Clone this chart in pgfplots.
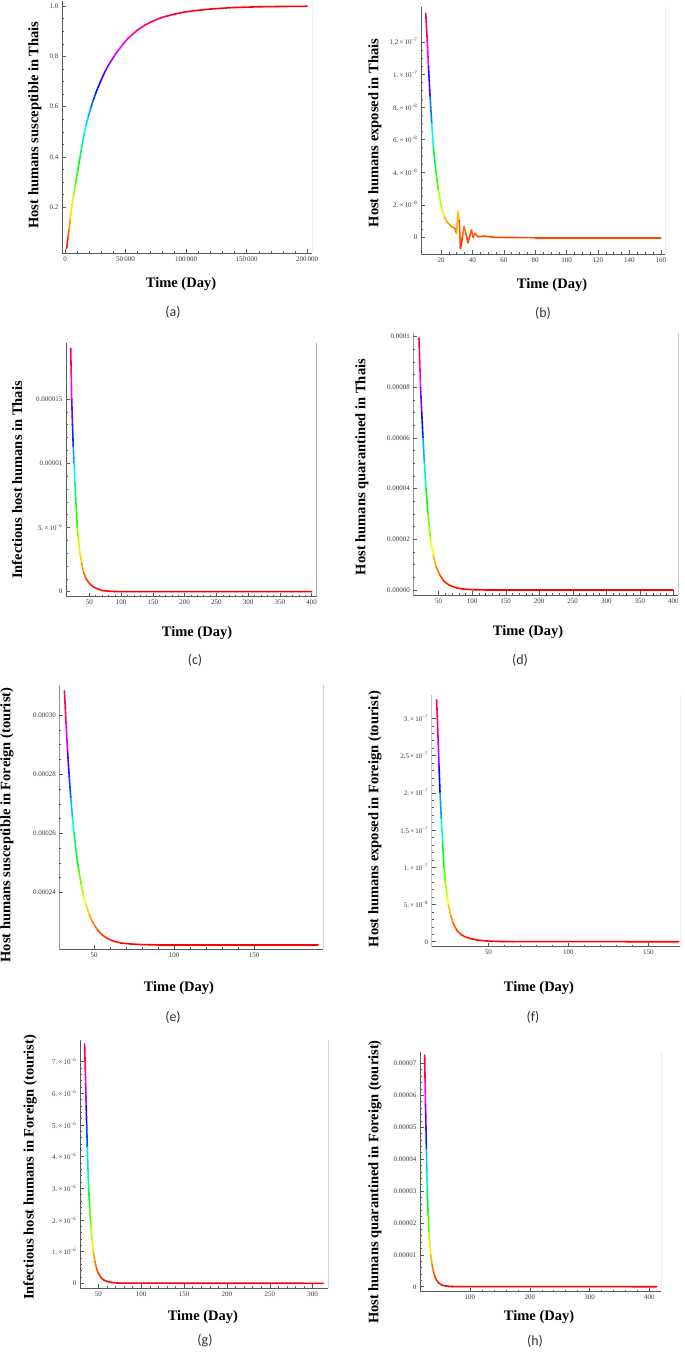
\documentclass[border=0pt]{standalone}
\usepackage{fontspec}
\setmainfont{Liberation Serif}
\newfontfamily\capfont{Carlito}
\usepackage{pgfplots}
\pgfplotsset{compat=1.18}
\definecolor{axcol}{HTML}{5A5A5A}
\definecolor{tkcol}{HTML}{3A3A3A}
\pgfplotsset{
  colormap={hue}{color=(red) color=(yellow) color=(green) color=(cyan) color=(blue) color=(magenta) color=(red)},
  panel/.style={
    scale only axis, anchor=south west,
    axis line style={draw=none},
    tick pos=left, tick align=inside,
    major tick length=4pt, minor tick length=2pt,
    tick style={axcol, line width=0.45pt},
    ticklabel style={font=\fontsize{7}{7.5}\selectfont, text=tkcol},
    label style={font=\bfseries\fontsize{14.5}{16}\selectfont, text=black},
    xlabel={Time (Day)},
    scaled x ticks=false, scaled y ticks=false,
    colormap name=hue,
  },
  curve/.style={mesh, point meta=y, line width=1.6pt, line cap=round, line join=round},
}
\newcommand{\frameR}[1][0.6pt]{\draw[axcol, line width=0.6pt] (rel axis cs:0,1) -- (rel axis cs:0,0) -- (rel axis cs:1,0);
  \draw[axcol!80, line width=#1] (rel axis cs:1,0) -- (rel axis cs:1,1);}
\newcommand{\sub}[3]{\node[font=\capfont\fontsize{14}{15}\selectfont, text=black!80] at (#1pt,-#2pt) {#3};}
\begin{document}
\begin{tikzpicture}
\useasboundingbox (0pt,0pt) rectangle (685pt,-1352pt);

% (a)
\begin{axis}[panel, at={(62pt,-253pt)}, width=250pt, height=252pt,
  xmin=-2500, xmax=204000, ymin=0.018, ymax=1.02,
  xtick={0,50000,100000,150000,200000}, xticklabels={0,50\,000,100\,000,150\,000,200\,000},
  minor x tick num=4,
  ytick={0.2,0.4,0.6,0.8,1.0}, yticklabels={0.2,0.4,0.6,0.8,1.0}, minor y tick num=3,
  ylabel={Host humans susceptible in Thais},
  xlabel style={at={(axis description cs:0.476,-0.123)}, anchor=center},
  ylabel style={at={(axis description cs:-0.108,0.508)}, anchor=center}]
\frameR
\addplot[curve] table {
1400 0.037
2300 0.075
3300 0.110
4400 0.155
5500 0.200
7100 0.248
8800 0.295
10600 0.348
12400 0.399
14100 0.447
15900 0.494
17500 0.528
19200 0.560
21300 0.595
23400 0.627
25400 0.654
27500 0.679
30200 0.710
33000 0.739
35700 0.763
38500 0.785
41900 0.810
45300 0.832
48700 0.853
52200 0.872
56300 0.890
60500 0.907
66000 0.924
71500 0.938
77000 0.949
82400 0.958
90000 0.967
97500 0.975
106000 0.981
120000 0.988
139000 0.994
160000 0.997
180000 0.9985
200000 0.999
};
\end{axis}
\sub{173}{312}{(a)}

% (b)
\begin{axis}[panel, at={(421pt,-254pt)}, width=244pt, height=247pt,
  xmin=7.25, xmax=162.7, ymin=-1.02e-8, ymax=1.413e-7,
  xtick={20,40,60,80,100,120,140,160}, xticklabels={20,40,60,80,100,120,140,160},
  minor x tick num=3,
  ytick={0,2e-8,4e-8,6e-8,8e-8,1e-7,1.2e-7},
  yticklabels={0,2.\,×\,10\textsuperscript{−8},4.\,×\,10\textsuperscript{−8},6.\,×\,10\textsuperscript{−8},8.\,×\,10\textsuperscript{−8},1.\,×\,10\textsuperscript{−7},1.2\,×\,10\textsuperscript{−7}},
  minor y tick num=3,
  ylabel={Host humans exposed in Thais},
  xlabel style={at={(axis description cs:0.537,-0.1255)}, anchor=center},
  ylabel style={at={(axis description cs:-0.1885,0.49)}, anchor=center}]
\frameR
\addplot[curve] table {
10.3 1.374e-7
11.2 1.211e-7
12.0 1.047e-7
13.05 8.63e-8
14.1 6.99e-8
15.1 5.56e-8
16.65 4.13e-8
18.3 2.90e-8
20.4 1.78e-8
22.0 1.30e-8
23.6 9.6e-9
26.8 6.5e-9
28.8 5.5e-9
29.9 2.5e-9
30.9 1.57e-8
31.6 1.06e-8
32.4 -6.7e-9
33.7 0.4e-9
34.7 6.5e-9
35.8 2.5e-9
37.2 -3.3e-9
39.4 4.5e-9
40.4 0
41.5 2.5e-9
43.6 0.4e-9
47.8 0.8e-9
54 0
80 -0.2e-9
160 -0.2e-9
};
\end{axis}
\sub{543}{313}{(b)}

% (c)
\begin{axis}[panel, at={(66pt,-596.7pt)}, width=250.7pt, height=253.7pt,
  xmin=13.3, xmax=407.9, ymin=-3.9e-7, ymax=1.936e-5,
  xtick={50,100,150,200,250,300,350,400}, xticklabels={50,100,150,200,250,300,350,400},
  minor x tick num=4,
  ytick={0,5e-6,1e-5,1.5e-5},
  yticklabels={0,5.\,×\,10\textsuperscript{−6},0.00001,0.000015},
  minor y tick num=4,
  ylabel={Infectious host humans in Thais},
  xlabel style={at={(axis description cs:0.5225,-0.143)}, anchor=center},
  ylabel style={at={(axis description cs:-0.1955,0.46)}, anchor=center}]
\frameR
\addplot[curve] table {
20.7 1.895e-5
21.5 1.70e-5
22.3 1.50e-5
23.5 1.30e-5
24.7 1.13e-5
25.9 1.00e-5
27.5 8.4e-6
29.0 6.9e-6
31.1 5.0e-6
33.0 4.0e-6
35.0 3.1e-6
38.0 2.2e-6
41.0 1.5e-6
45.0 1.0e-6
50.0 6.5e-7
56 3.8e-7
63 2.3e-7
70 0.9e-7
80 0.4e-7
90 0.15e-7
100 0.05e-7
400 0
};
\end{axis}
\sub{195}{660}{(c)}

% (d)
\begin{axis}[panel, at={(413.3pt,-595pt)}, width=265pt, height=262pt,
  xmin=12.1, xmax=407.5, ymin=-2e-6, ymax=1.0146e-4,
  xtick={50,100,150,200,250,300,350,400}, xticklabels={50,100,150,200,250,300,350,400},
  minor x tick num=4,
  ytick={0,2e-5,4e-5,6e-5,8e-5,1e-4},
  yticklabels={0.00000,0.00002,0.00004,0.00006,0.00008,0.0001},
  minor y tick num=3,
  ylabel={Host humans quarantined in Thais},
  xlabel style={at={(axis description cs:0.433,-0.141)}, anchor=center},
  ylabel style={at={(axis description cs:-0.194,0.4885)}, anchor=center}]
\frameR
\addplot[curve] table {
20.6 9.95e-5
21.7 9.0e-5
22.9 8.0e-5
24.7 7.0e-5
26.6 6.0e-5
28.7 5.0e-5
31.0 4.0e-5
34.0 3.0e-5
38.0 2.0e-5
42 1.35e-5
46 9.3e-6
52 5.8e-6
58 3.4e-6
65 2.0e-6
74 1.0e-6
85 0.4e-6
100 0.1e-6
120 0
400 0
};
\end{axis}
\sub{520}{660}{(d)}

% (e)
\begin{axis}[panel, at={(59.3pt,-949.3pt)}, width=264pt, height=264.3pt,
  xmin=28.3, xmax=193.3, ymin=2.207e-4, ymax=3.102e-4,
  xtick={50,100,150}, xticklabels={50,100,150},
  minor x tick num=4,
  ytick={2.4e-4,2.6e-4,2.8e-4,3e-4},
  yticklabels={0.00024,0.00026,0.00028,0.00030},
  minor y tick num=3,
  ylabel={Host humans susceptible in Foreign (tourist)},
  xlabel style={at={(axis description cs:0.453,-0.146)}, anchor=center},
  ylabel style={at={(axis description cs:-0.198,0.47)}, anchor=center}]
\frameR
\addplot[curve] table {
31.5 3.082e-4
32.5 2.972e-4
33.5 2.876e-4
34.5 2.792e-4
35.5 2.719e-4
36.5 2.655e-4
37.5 2.600e-4
39 2.530e-4
40.5 2.473e-4
42 2.426e-4
43.5 2.388e-4
45 2.357e-4
47 2.325e-4
49 2.300e-4
52 2.274e-4
55 2.256e-4
58 2.245e-4
62 2.235e-4
67 2.228e-4
73 2.225e-4
80 2.223e-4
90 2.222e-4
190 2.222e-4
};
\end{axis}
\sub{173}{1017}{(e)}

% (f)
\begin{axis}[panel, at={(431.7pt,-946.7pt)}, width=248.3pt, height=251.7pt,
  xmin=14.6, xmax=169.8, ymin=-6.7e-9, ymax=3.313e-7,
  xtick={50,100,150}, xticklabels={50,100,150},
  minor x tick num=4,
  ytick={0,5e-8,1e-7,1.5e-7,2e-7,2.5e-7,3e-7},
  yticklabels={0,5.\,×\,10\textsuperscript{−8},1.\,×\,10\textsuperscript{−7},1.5\,×\,10\textsuperscript{−7},2.\,×\,10\textsuperscript{−7},2.5\,×\,10\textsuperscript{−7},3.\,×\,10\textsuperscript{−7}},
  minor y tick num=4,
  ylabel={Host humans exposed in Foreign (tourist)},
  xlabel style={at={(axis description cs:0.432,-0.164)}, anchor=center},
  ylabel style={at={(axis description cs:-0.229,0.507)}, anchor=center}]
\frameR
\addplot[curve] table {
17.7 3.25e-7
18.5 2.78e-7
19.2 2.35e-7
19.8 2.0e-7
20.6 1.65e-7
21.4 1.33e-7
22.3 1.0e-7
23.2 8.0e-8
24.1 6.2e-8
25.0 5.0e-8
26.5 3.5e-8
28 2.5e-8
30.2 1.57e-8
33 9.5e-9
36 6.0e-9
39 4.2e-9
43 2.3e-9
49 1.0e-9
55 0.4e-9
65 0.1e-9
169 0
};
\end{axis}
\sub{533}{1017}{(f)}

% (g)
\begin{axis}[panel, at={(80pt,-1288.3pt)}, width=248.3pt, height=248.3pt,
  xmin=28.7, xmax=318.2, ymin=-1.58e-7, ymax=7.685e-6,
  xtick={50,100,150,200,250,300}, xticklabels={50,100,150,200,250,300},
  minor x tick num=4,
  ytick={0,1e-6,2e-6,3e-6,4e-6,5e-6,6e-6,7e-6},
  yticklabels={0,1.\,×\,10\textsuperscript{−6},2.\,×\,10\textsuperscript{−6},3.\,×\,10\textsuperscript{−6},4.\,×\,10\textsuperscript{−6},5.\,×\,10\textsuperscript{−6},6.\,×\,10\textsuperscript{−6},7.\,×\,10\textsuperscript{−6}},
  minor y tick num=4,
  ylabel={Infectious host humans in Foreign (tourist)},
  xlabel style={at={(axis description cs:0.495,-0.1156)}, anchor=center},
  ylabel style={at={(axis description cs:-0.201,0.487)}, anchor=center}]
\frameR[1.4pt]
\addplot[curve] table {
34.1 7.56e-6
34.7 6.9e-6
35.3 6.3e-6
35.9 5.6e-6
36.5 5.0e-6
37.2 4.3e-6
38.0 3.6e-6
38.8 3.0e-6
40.0 2.4e-6
41.3 1.85e-6
42.7 1.35e-6
44.2 1.0e-6
46 0.70e-6
48 0.47e-6
50 0.32e-6
53 0.19e-6
56 0.11e-6
60 0.06e-6
66 0.025e-6
75 0.005e-6
312.4 0
};
\end{axis}
\sub{205}{1341}{(g)}

% (h)
\begin{axis}[panel, at={(420pt,-1291.7pt)}, width=241pt, height=240pt,
  xmin=16.4, xmax=419.5, ymin=-1.57e-6, ymax=7.364e-5,
  xtick={100,200,300,400}, xticklabels={100,200,300,400},
  minor x tick num=4,
  ytick={0,1e-5,2e-5,3e-5,4e-5,5e-5,6e-5,7e-5},
  yticklabels={0,0.00001,0.00002,0.00003,0.00004,0.00005,0.00006,0.00007},
  minor y tick num=4,
  ylabel={Host humans quarantined in Foreign (tourist)},
  xlabel style={at={(axis description cs:0.494,-0.106)}, anchor=center},
  ylabel style={at={(axis description cs:-0.187,0.457)}, anchor=center}]
\frameR
\addplot[curve] table {
24.2 7.26e-5
24.9 6.45e-5
25.6 5.7e-5
26.4 5.0e-5
27.1 4.3e-5
27.8 3.6e-5
28.6 3.0e-5
30.0 2.3e-5
31.5 1.72e-5
32.9 1.3e-5
34.3 1.0e-5
36.5 7.0e-6
39 4.6e-6
41.5 3.1e-6
44.3 2.0e-6
48 1.1e-6
52 0.6e-6
56 0.35e-6
61 0.2e-6
70 0.06e-6
80 0.02e-6
412.3 0
};
\end{axis}
\sub{535}{1341}{(h)}
\end{tikzpicture}
\end{document}
